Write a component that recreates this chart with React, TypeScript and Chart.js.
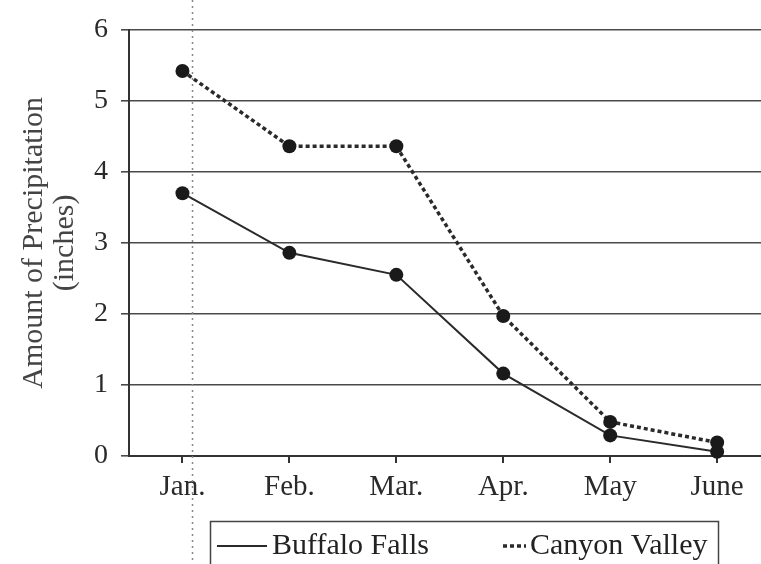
import React, { useEffect, useRef } from "react";
import { Chart, registerables } from "chart.js";

Chart.register(...registerables);

const months = ["Jan.", "Feb.", "Mar.", "Apr.", "May", "June"];
const buffaloFalls = [3.7, 2.86, 2.55, 1.16, 0.29, 0.06];
const canyonValley = [5.42, 4.36, 4.36, 1.97, 0.48, 0.19];
const yTicks = [0, 1, 2, 3, 4, 5, 6];
const seriesNames = ["Buffalo Falls", "Canyon Valley"];
const yTitle = ["Amount of Precipitation", "(inches)"];

const FONT = '"Liberation Serif", "DejaVu Serif", serif';

const decorPlugin = {
  id: "decor",
  beforeDatasetsDraw(chart: any) {
    const ctx = chart.ctx;
    // faint vertical scan fold
    ctx.save();
    ctx.strokeStyle = "#888";
    ctx.lineWidth = 1.5;
    ctx.setLineDash([2, 4]);
    ctx.beginPath();
    ctx.moveTo(192.5, 0);
    ctx.lineTo(192.5, 564);
    ctx.stroke();
    ctx.restore();
  },
  afterDraw(chart: any) {
    const ctx = chart.ctx;
    const ds = chart.data.datasets;
    ctx.save();
    ctx.strokeStyle = "#444";
    ctx.lineWidth = 1.5;
    ctx.setLineDash([]);
    ctx.strokeRect(210.5, 521.5, 508, 60);
    const y = 546;
    ctx.font = `30px ${FONT}`;
    ctx.textBaseline = "middle";
    ctx.fillStyle = "#222";
    // item 1
    ctx.strokeStyle = ds[0].borderColor;
    ctx.lineWidth = ds[0].borderWidth;
    ctx.setLineDash(ds[0].borderDash || []);
    ctx.beginPath();
    ctx.moveTo(217, y);
    ctx.lineTo(267, y);
    ctx.stroke();
    ctx.fillText(ds[0].label, 272, y);
    // item 2
    ctx.strokeStyle = ds[1].borderColor;
    ctx.lineWidth = ds[1].borderWidth;
    ctx.setLineDash(ds[1].borderDash || []);
    ctx.beginPath();
    ctx.moveTo(503, y);
    ctx.lineTo(526, y);
    ctx.stroke();
    ctx.setLineDash([]);
    ctx.fillText(ds[1].label, 530, y);
    ctx.restore();
  },
};

export default function App() {
  const ref = useRef<HTMLCanvasElement | null>(null);
  useEffect(() => {
    if (!ref.current) return;
    const chart = new Chart(ref.current, {
      type: "line",
      data: {
        datasets: [
          {
            label: seriesNames[0],
            data: months.map((_, i) => ({ x: i, y: buffaloFalls[i] })),
            borderColor: "#2a2a2a",
            backgroundColor: "#1a1a1a",
            borderWidth: 2,
            pointRadius: 7,
            pointBorderWidth: 0,
            pointBackgroundColor: "#1a1a1a",
            tension: 0,
            clip: false,
          },
          {
            label: seriesNames[1],
            data: months.map((_, i) => ({ x: i, y: canyonValley[i] })),
            borderColor: "#2a2a2a",
            backgroundColor: "#1a1a1a",
            borderWidth: 3.5,
            borderDash: [4, 3],
            pointRadius: 7,
            pointBorderWidth: 0,
            pointBackgroundColor: "#1a1a1a",
            tension: 0,
            clip: false,
          },
        ],
      },
      options: {
        animation: false,
        responsive: false,
        devicePixelRatio: 1,
        layout: { autoPadding: false, padding: { top: 21, bottom: 58, left: 0, right: 0 } },
        plugins: {
          legend: { display: false },
          tooltip: { enabled: false },
        },
        scales: {
          x: {
            type: "linear",
            min: -0.5,
            max: 5.41,
            afterBuildTicks: (scale: any) => {
              scale.ticks = months.map((_, i) => ({ value: i }));
            },
            afterFit: (scale: any) => {
              scale.height = 50;
              scale.paddingLeft = 0;
              scale.paddingRight = 0;
            },
            ticks: {
              callback: (v: any) => months[Math.round(v)] ?? "",
              font: { family: FONT, size: 29 },
              color: "#2a2a2a",
              padding: 7,
              maxRotation: 0,
              autoSkip: false,
            },
            grid: {
              drawOnChartArea: false,
              drawTicks: true,
              tickLength: 7,
              color: "#333",
              lineWidth: 2,
            },
            border: { color: "#333", width: 2 },
          },
          y: {
            min: 0,
            max: 6,
            afterBuildTicks: (scale: any) => {
              scale.ticks = yTicks.map((v) => ({ value: v }));
            },
            afterFit: (scale: any) => {
              scale.width = 129;
            },
            ticks: {
              font: { family: FONT, size: 28 },
              color: "#2a2a2a",
              padding: 13,
            },
            grid: {
              color: "#4a4a4a",
              lineWidth: 1.6,
              tickLength: 8,
            },
            border: { color: "#333", width: 2 },
            title: {
              display: true,
              text: yTitle,
              font: { family: FONT, size: 30, lineHeight: 1.05 },
              color: "#444",
              padding: { top: 18, bottom: 0 },
            },
          },
        },
      },
      plugins: [decorPlugin],
    } as any);
    return () => chart.destroy();
  }, []);
  return (
    <div style={{ position: "fixed", left: 0, top: 0, width: 761, height: 564, background: "#fff" }}>
      <canvas ref={ref} width={761} height={564} />
    </div>
  );
}
